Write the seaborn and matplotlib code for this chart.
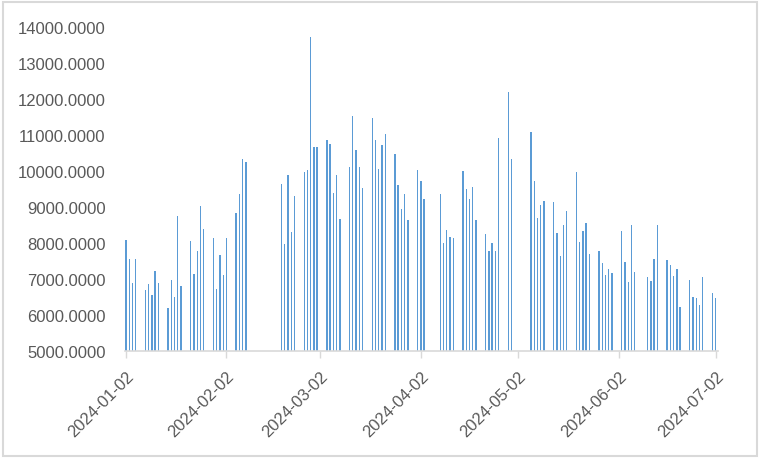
import pandas as pd
import matplotlib
matplotlib.use("Agg")
import matplotlib.pyplot as plt
import matplotlib.dates as mdates
from matplotlib.patches import Rectangle
import seaborn as sns

# trading days (weekdays minus exchange holidays)
holidays = ["2024-02-09", "2024-02-12", "2024-02-13", "2024-02-14", "2024-02-15",
            "2024-02-16", "2024-04-04", "2024-04-05", "2024-05-01", "2024-05-02",
            "2024-05-03", "2024-06-10"]

jan = [8083, 7556, 6889, 7556,
       6694, 6861, 6556, 7222, 6889,
       6186, 6964, 6500, 8750, 6806,
       8056, 7139, 7778, 9028, 8389,
       8139, 6714, 7667]
feb = [7111, 8139,
       8833, 9361, 10333, 10258,
       9639, 7972, 9889, 8306, 9306,
       9972, 10028, 13722, 10658]
mar = [10658,
       10870, 10759, 9389, 9889, 8667,
       10120, 11519, 10592, 10120, 9528,
       11463, 10852, 10065, 10731, 11037,
       10481, 9611, 8944, 9361, 8639]
apr = [10028, 9722, 9222,
       9361, 8000, 8361, 8167, 8139,
       10009, 9509, 9231, 9564, 8648,
       8250, 7778, 8000, 7778, 10907,
       12185, 10343]
may = [11074, 9731, 8694, 9056, 9167,
       9139, 8278, 7639, 8500, 8889,
       9981, 8028, 8333, 8556, 7694,
       7778, 7444, 7111, 7278, 7167]
jun = [8333, 7472, 6917, 8500, 7194,
       7056, 6944, 7556, 8500,
       7528, 7389, 7083, 7278, 6222,
       6972, 6500, 6472, 6278, 7056]
jul = [6611, 6472]

tick_labels = ["2024-01-02", "2024-02-02", "2024-03-02", "2024-04-02",
               "2024-05-02", "2024-06-02", "2024-07-02"]

days = pd.bdate_range("2024-01-02", "2024-07-02")
days = days[~days.isin(pd.to_datetime(holidays))]
values = jan + feb + mar + apr + may + jun + jul

df = pd.DataFrame({"date": mdates.date2num(days), "value": values})

fig = plt.figure(figsize=(7.6, 4.6), dpi=100)
ax = fig.add_axes([125 / 760, 1 - 352 / 460, (718 - 125) / 760, (352 - 28) / 460])

sns.barplot(data=df, x="date", y="value", native_scale=True, width=0.42,
            color="#5B9BD5", saturation=1, linewidth=0, ax=ax)

tick_pos = mdates.date2num(pd.to_datetime(tick_labels))
ax.set_xlim(tick_pos[0] - 0.3, tick_pos[-1] + 0.7)
ax.set_ylim(5000, 14000)
ax.set_yticks(range(5000, 14001, 1000))
ax.set_yticklabels([f"{v:.4f}" for v in range(5000, 14001, 1000)],
                   fontsize=12, color="#595959", family="Liberation Sans")
ax.set_xticks(tick_pos)
ax.set_xticklabels(tick_labels, rotation=45, ha="right", rotation_mode="anchor",
                   fontsize=12, color="#595959", family="Liberation Sans")
ax.tick_params(axis="y", length=0, pad=14)
ax.tick_params(axis="x", length=5, width=1, color="#D9D9D9", pad=7)
ax.set_xlabel("")
ax.set_ylabel("")
for s in ["top", "right", "left"]:
    ax.spines[s].set_visible(False)
ax.spines["bottom"].set_color("#D9D9D9")
ax.spines["bottom"].set_linewidth(1.2)

fig.patches.append(Rectangle((0.004, 0.006), 0.992, 0.988, transform=fig.transFigure,
                             fill=False, edgecolor="#D9D9D9", linewidth=1.5))

fig.savefig("out.png", dpi=100)
